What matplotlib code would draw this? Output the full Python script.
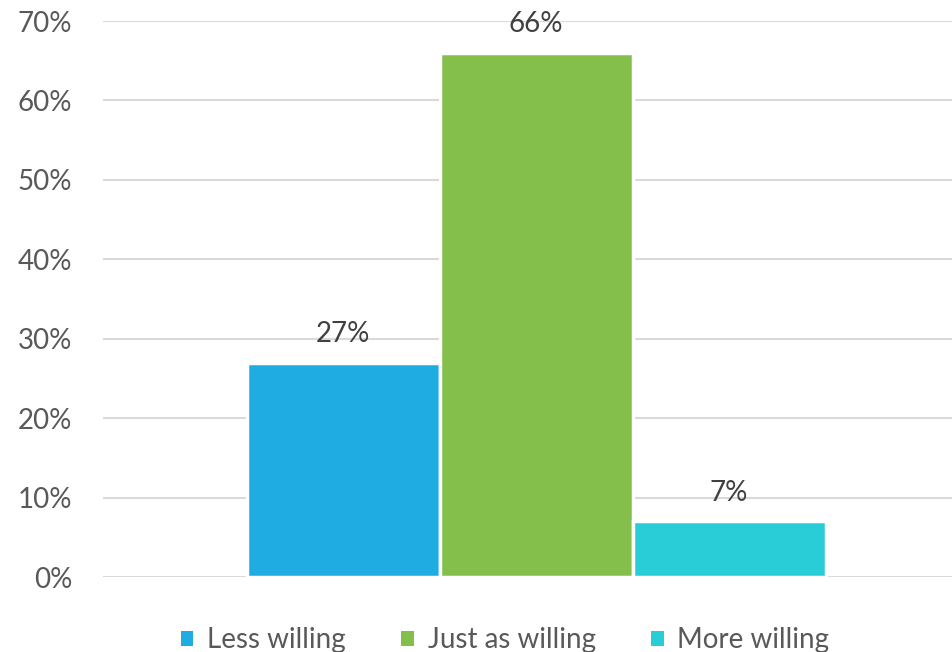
import numpy as np
import matplotlib
matplotlib.use("Agg")
import matplotlib.pyplot as plt
from matplotlib.patches import Patch
from matplotlib.ticker import FuncFormatter, MultipleLocator

# Survey shares
categories = ["Less willing", "Just as willing", "More willing"]
values = [27, 66, 7]
colors = ["#1EACE3", "#84BE4B", "#29CDD7"]

plt.rcParams["font.family"] = ["Lato", "DejaVu Sans"]

fig = plt.figure(figsize=(9.52, 6.52), dpi=100)
ax = fig.add_axes([103 / 952, 1 - 577 / 652, (952 - 103) / 952, (577 - 21) / 652])

x = np.arange(len(values))
bars = ax.bar(x, values, width=1.0, color=colors, edgecolor="white",
              linewidth=2.5, zorder=3)

for b, v in zip(bars, values):
    ax.text(b.get_x() + b.get_width() / 2, v + 3.6, f"{v}%",
            ha="center", va="center", fontsize=20, color="#404040", zorder=4)

ax.set_xlim(-1.245, 3.155)
ax.set_ylim(0, 70)
ax.yaxis.set_major_locator(MultipleLocator(10))
ax.yaxis.set_major_formatter(FuncFormatter(lambda v, p: f"{v:.0f}%"))
ax.grid(axis="y", color="#D9D9D9", linewidth=1.5, zorder=0)
ax.set_xticks([])
ax.tick_params(axis="y", length=0, pad=22, labelsize=20, labelcolor="#595959")
for s in ax.spines.values():
    s.set_visible(False)

handles = [Patch(facecolor=c, edgecolor="none") for c in colors]
fig.legend(handles, categories, loc="center", bbox_to_anchor=(505 / 952, 1 - 640 / 652),
           ncol=3, frameon=False, fontsize=20, labelcolor="#595959",
           handlelength=0.45, handleheight=0.45, handletextpad=0.5, columnspacing=2.0)

fig.savefig("out.png", dpi=100)
